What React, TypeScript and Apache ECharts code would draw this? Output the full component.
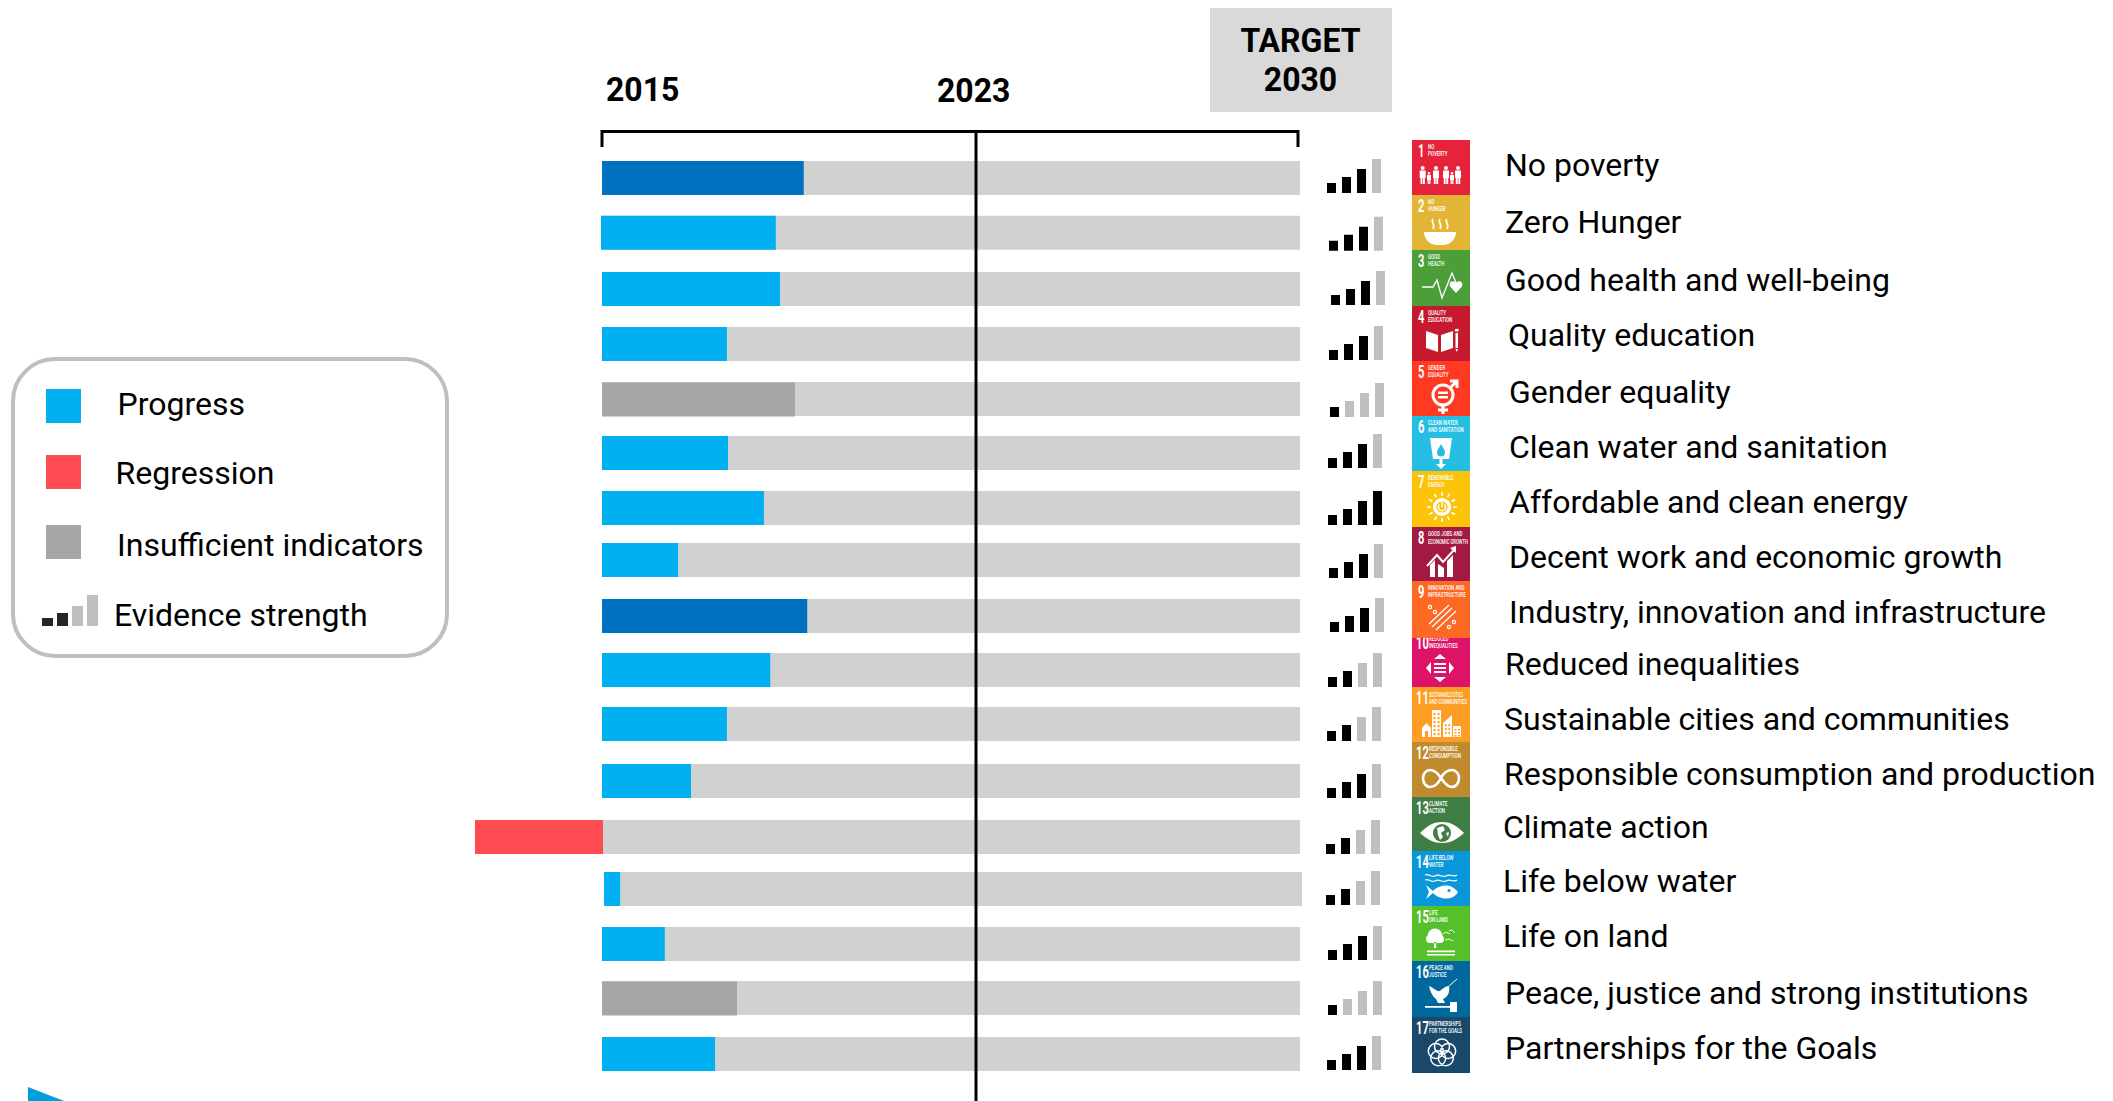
import React, { useEffect, useRef } from "react";
import * as echarts from "echarts";

// ---------- data ----------
const categories = [
  "No poverty", "Zero Hunger", "Good health and well-being", "Quality education", "Gender equality",
  "Clean water and sanitation", "Affordable and clean energy", "Decent work and economic growth",
  "Industry, innovation and infrastructure", "Reduced inequalities", "Sustainable cities and communities",
  "Responsible consumption and production", "Climate action", "Life below water", "Life on land",
  "Peace, justice and strong institutions", "Partnerships for the Goals",
];
const progressValues = [28.9, 24.9, 25.5, 17.9, 27.65, 18.05, 23.2, 10.9, 29.4, 24.1, 17.9, 12.75, -18.2, 2.6, 9.0, 19.35, 16.2];
const statuses = ["strong", "progress", "progress", "progress", "insufficient", "progress", "progress", "progress", "strong", "progress", "progress", "progress", "regression", "progress", "progress", "insufficient", "progress"];
const evidenceLevels = [3, 3, 3, 3, 1, 3, 4, 3, 3, 2, 2, 3, 2, 2, 3, 1, 3];
const legendItems = ["Progress", "Regression", "Insufficient indicators", "Evidence strength"];
const goalTitles = [
  ["NO", "POVERTY"], ["NO", "HUNGER"], ["GOOD", "HEALTH"], ["QUALITY", "EDUCATION"], ["GENDER", "EQUALITY"],
  ["CLEAN WATER", "AND SANITATION"], ["RENEWABLE", "ENERGY"], ["GOOD JOBS AND", "ECONOMIC GROWTH"],
  ["INNOVATION AND", "INFRASTRUCTURE"], ["REDUCED", "INEQUALITIES"], ["SUSTAINABLE CITIES", "AND COMMUNITIES"],
  ["RESPONSIBLE", "CONSUMPTION"], ["CLIMATE", "ACTION"], ["LIFE BELOW", "WATER"], ["LIFE", "ON LAND"],
  ["PEACE AND", "JUSTICE"], ["PARTNERSHIPS", "FOR THE GOALS"],
];

// ---------- colours ----------
const statusColors: Record<string, string> = {
  strong: "#0070C0", progress: "#00B0F0", regression: "#FF4B52", insufficient: "#A6A6A6",
};
const trackColor = "#D0D2D1";
const goalColors = ["#E5243B", "#E2B536", "#4C9F38", "#C5192D", "#FF3A21", "#26BDE2", "#FCC30B", "#A21942", "#FD6925", "#DD1367", "#FD9D24", "#BF8B2E", "#3F7E44", "#0A97D9", "#56C02B", "#00689D", "#19486A"];

// ---------- layout (pixels of the page) ----------
const rowNudge = [0, 0, 1.5, 1.75, 2, 1.25, 1.5, -1.25, 0, -0.75, -1.5, 0.75, 2, -0.75, -0.5, -1.25, 0];
const rowStartShift = [0, -1, 0, 0, 0, 0, 0, 0, 0, 0, 0, 0, 1, 2, 0, 0, 0];
const rowEndShift = [0, 0, 0, 0, 0, 0, 0, 0, 0, 0, 0, 0, 0, 2, 0, 0, 0];
const evidenceX = [1327, 1329, 1331, 1329, 1330, 1328, 1328, 1329, 1330, 1328, 1327, 1327, 1326, 1326, 1328, 1328, 1327];
const evidenceDrop = [15, 18, 16, 16, 18, 15, 17, 18, 16, 17, 17, 17, 17, 16, 16, 17, 16];
const labelX = [1505, 1505, 1505, 1508, 1509, 1509, 1509, 1509, 1509, 1505, 1504, 1504, 1503, 1503, 1503, 1505, 1505];
const labelY = [165.2, 222.2, 280.2, 335.2, 392.2, 446.7, 501.7, 557.2, 611.7, 663.7, 718.7, 773.7, 827.2, 880.7, 936.2, 992.7, 1048.2];
const iconTop = [140, 195, 250, 306, 361, 416, 471, 527, 581, 632, 687, 742, 797, 851, 906, 961, 1017];
const iconBottom = [195, 250, 306, 361, 416, 471, 527, 581, 638, 687, 742, 797, 851, 906, 961, 1017, 1073];
const FONT = "Roboto";

// ---------- SDG icon glyphs (local 58x55 box) ----------
const circ = (cx: number, cy: number, r: number) =>
  `M${cx - r} ${cy}a${r} ${r} 0 1 0 ${2 * r} 0a${r} ${r} 0 1 0 ${-2 * r} 0Z`;
const box = (x: number, y: number, w: number, h: number) => `M${x} ${y}h${w}v${h}h${-w}Z`;
const person = (cx: number, bottom: number, h: number) => {
  const u = h / 18;
  return circ(cx, bottom - h + 2 * u, 2 * u) + box(cx - 3 * u, bottom - h + 4.6 * u, 6 * u, 7.4 * u) + box(cx - 2.2 * u, bottom - h + 12 * u, 1.9 * u, 6 * u) + box(cx + 0.3 * u, bottom - h + 12 * u, 1.9 * u, 6 * u);
};
let sunRays = "";
const rayDirs = [[0, -1], [0.5, -0.87], [0.87, -0.5], [1, 0], [0.87, 0.5], [0.5, 0.87], [0, 1], [-0.5, 0.87], [-0.87, 0.5], [-1, 0], [-0.87, -0.5], [-0.5, -0.87]];
rayDirs.forEach(([a, b]) => { sunRays += `M${30 + a * 11} ${36 + b * 11}L${30 + a * 15} ${36 + b * 15}`; });
let cityWindows = "";
[0, 1, 2, 3, 4, 5].forEach((r) => { cityWindows += box(21.5, 26 + r * 4, 2, 2.2) + box(25.5, 26 + r * 4, 2, 2.2); });
[0, 1, 2].forEach((r) => { cityWindows += box(33, 37 + r * 4, 1.6, 2.2) + box(36.5, 37 + r * 4, 1.6, 2.2) + box(42.5, 42 + r * 3, 2, 1.6) + box(46, 42 + r * 3, 2, 1.6); });
cityWindows += box(13, 44, 3, 6);
const petals = [0, 72, 144, 216, 288].map((deg) => circ(30 + 6.5 * Math.sin((deg * Math.PI) / 180), 36 - 6.5 * Math.cos((deg * Math.PI) / 180), 7.5)).join("");

type Layer = { d: string; m: "f" | "s" | "bf" | "bs"; w?: number };
const glyphs: Layer[][] = [
  [{ d: person(10.7, 44, 18) + person(17, 44, 12) + person(24, 44, 18) + person(34, 44, 18) + person(40, 44, 12) + person(46, 44, 18), m: "f" }],
  [{ d: "M12 37H44C44 44 38 50 31 50H25C18 50 12 44 12 37Z", m: "f" },
   { d: "M21 24C18 27 24 29 21 34M28 24C25 27 31 29 28 34M35 24C32 27 38 29 35 34", m: "s", w: 1.6 }],
  [{ d: "M10 37H21L25 30L30 48L40 23L45 35", m: "s", w: 1.3 },
   { d: "M44 43L38.5 37C36 34 39 30 42 31.5C43 32 44 33 44 33C44 33 45 32 46 31.5C49 30 52 34 49.5 37Z", m: "f" }],
  [{ d: "M14 25L26 29V46L14 42ZM29 29L41 25V42L29 46Z", m: "f" },
   { d: box(43.5, 27, 2.5, 15) + "M43.5 43h2.5l-1.25 3ZM44.75 23a1.25 1.25 0 0 1 1.25 2.5h-2.5a1.25 1.25 0 0 1 1.25 -2.5Z", m: "f" }],
  [{ d: circ(31, 34, 10) + "M38 27L45 20M38 20H45V27M31 44V53M26 49H36", m: "s", w: 3 },
   { d: box(26, 30.5, 10, 2.4) + box(26, 35, 10, 2.4), m: "f" }],
  [{ d: "M18 22H40L37 43H21Z", m: "f" }, { d: "M29 28C31 32 33 34 33 36.5A4 4 0 0 1 25 36.5C25 34 27 32 29 28Z", m: "bf" },
   { d: box(27.5, 43, 3, 6) + "M24 48H34L29 53Z", m: "f" }],
  [{ d: sunRays, m: "s", w: 1.6 }, { d: circ(30, 36, 9), m: "f" }, { d: circ(30, 36, 5.6), m: "bf" },
   { d: "M27.5 33.5A3.6 3.6 0 1 0 32.5 33.5M30 31V36", m: "s", w: 1.4 }],
  [{ d: "M18 38L23 33L23 50H18ZM26 37L32 41V50H26ZM35 34L41 28V50H35Z", m: "f" },
   { d: "M15 39L25 28L31 35L42 23", m: "s", w: 2 }, { d: "M38 21L44 19L44 26Z", m: "f" }],
  [{ d: "M17 43L37 24M20 46L40 27M24 49L44 30", m: "s", w: 1.3 },
   { d: circ(18, 26, 1.6) + circ(23, 31, 1.6) + circ(37, 46, 1.6) + circ(42, 41, 1.6), m: "s", w: 1.2 }],
  [{ d: "M28 22L22 27H34ZM28 50L22 45H34ZM14 36L19 30V42ZM42 36L37 30V42Z", m: "f" },
   { d: box(22, 31, 12, 2) + box(22, 35, 12, 2) + box(22, 39, 12, 2), m: "f" }],
  [{ d: box(20, 23, 9, 27) + "M31 50V36L40 28V50ZM41 39H49V50H41ZM10 41L14.5 36L19 41V50H10Z", m: "f" }, { d: cityWindows, m: "bf" }],
  [{ d: "M29 36C25 30 21 28 18 28C14 28 11 32 11 36C11 41 14 45 18 45C22 45 26 42 29 36C32 30 36 28 40 28C44 28 47 32 47 36C47 41 44 45 40 45C36 45 33 42 29 36Z", m: "s", w: 2.6 }],
  [{ d: "M8 36C16 28 22 25 30 25C38 25 44 28 52 36C44 43 38 46 30 46C22 46 16 43 8 36Z", m: "f" }, { d: circ(30, 36, 9), m: "bf" },
   { d: "M25 31L31 29L33 33L29 36L31 40L28 43L26 38Z M34 36L37 35L36 40Z", m: "f" }],
  [{ d: "M13 24C17 22 19 27 23 25C27 22 30 27 34 25C38 22 41 27 45 24M13 29C17 27 19 32 23 30C27 27 30 32 34 30C38 27 41 32 45 29", m: "s", w: 1.2 },
   { d: "M20 41C25 35 34 33 40 36C43 37.5 45 40 46 41C45 43 43 45 40 46.5C34 49 25 47 20 41ZM14 34L22 41L14 48L17 41Z", m: "f" }, { d: circ(37, 39.5, 1.6), m: "bf" }],
  [{ d: circ(23, 30, 7.5) + circ(18, 33, 4) + circ(28, 33, 4) + box(22, 36, 2.2, 6) + box(15, 44.5, 28, 1.8) + box(15, 48, 28, 1.6), m: "f" },
   { d: "M31 28L34 26L38 28M37 25L40 24L43 27M33 34L37 33L41 35", m: "s", w: 0.9 }],
  [{ d: "M17 25C22 27 25 31 28 30C31 27 34 25 37 25C38 31 36 36 31 38L33 42H26L24 38C20 35 18 30 17 25Z", m: "f" },
   { d: "M37 25L45 18", m: "s", w: 1 },
   { d: box(13, 45, 25, 1.8) + box(38, 41, 7, 10), m: "f" }],
  [{ d: petals, m: "s", w: 1.5 }],
];
glyphs.forEach((layers, i) => layers.forEach((layer, j) => {
  echarts.graphic.registerShape(`sdg${i}_${j}`, echarts.graphic.extendPath(layer.d, {}));
}));

const legendBarsH = [8, 13, 20, 31];

function iconGraphic(i: number) {
  const top = iconTop[i];
  const h = iconBottom[i] - top;
  const color = goalColors[i];
  const two = i >= 9;
  const fit = (s: string) => Math.min(0.56, 39 / (s.length * 0.62 * 8));
  const small = { fontFamily: FONT, fontWeight: 500, fontSize: 8, fill: "#fff", verticalAlign: "middle", textVerticalAlign: "middle" };
  const children: any[] = [
    { type: "rect", shape: { x: 0, y: 0, width: 58, height: h }, style: { fill: color } },
    { type: "text", x: two ? 4 : 6, y: 11, scaleX: 0.62, style: { text: String(i + 1), fontFamily: FONT, fontWeight: 700, fontSize: 18, fill: "#fff", verticalAlign: "middle", textVerticalAlign: "middle" } },
    { type: "text", x: two ? 17 : 16, y: 7, scaleX: fit(goalTitles[i][0]), style: { text: goalTitles[i][0], ...small } },
    { type: "text", x: two ? 17 : 16, y: 14, scaleX: fit(goalTitles[i][1]), style: { text: goalTitles[i][1], ...small } },
  ];
  glyphs[i].forEach((layer, j) => {
    const isStroke = layer.m === "s" || layer.m === "bs";
    const c = layer.m[0] === "b" ? color : "#fff";
    children.push({
      type: `sdg${i}_${j}`,
      style: isStroke ? { fill: "none", stroke: c, lineWidth: layer.w || 1 } : { fill: c },
    });
  });
  return { type: "group", x: 1412, y: top, children };
}

function buildGraphics() {
  const t = (text: string, x: number, y: number, size: number, extra: any = {}, scaleX = 1) => ({
    type: "text", x, y, z: 20, scaleX,
    style: { text, fontFamily: FONT, fontSize: size, fill: "#000", verticalAlign: "middle", textVerticalAlign: "middle", ...extra },
  });
  const els: any[] = [];
  // header
  els.push({ type: "rect", shape: { x: 1210, y: 8, width: 182, height: 104 }, style: { fill: "#D9D9D9" } });
  els.push(t("TARGET", 1300.5, 41, 33, { fontWeight: 700, align: "center", textAlign: "center" }, 0.97));
  els.push(t("2030", 1300.5, 80, 33, { fontWeight: 700, align: "center", textAlign: "center" }, 0.97));
  els.push(t("2015", 606, 89.5, 33, { fontWeight: 700 }, 0.97));
  els.push(t("2023", 937, 90.5, 33, { fontWeight: 700 }, 0.97));
  // bracket and 2023 line
  const line = { stroke: "#000", lineWidth: 3 };
  els.push({ type: "polyline", z: 30, shape: { points: [[602, 147], [602, 131.5], [1298, 131.5], [1298, 147]] }, style: { ...line, fill: "none" } });
  els.push({ type: "line", z: 30, shape: { x1: 976, y1: 131, x2: 976, y2: 1101 }, style: line });
  // legend
  els.push({ type: "rect", shape: { x: 13, y: 359, width: 434, height: 297, r: 42 }, style: { fill: "#fff", stroke: "#BFBFBF", lineWidth: 4 } });
  const swatchY = [389, 455, 525];
  [statusColors.progress, statusColors.regression, statusColors.insufficient].forEach((c, i) => {
    els.push({ type: "rect", shape: { x: 46, y: swatchY[i], width: 35, height: 34 }, style: { fill: c } });
  });
  const legendX = [117.5, 115.5, 117, 114];
  const legendY = [403.7, 473.2, 544.7, 614.7];
  legendItems.forEach((s, i) => els.push(t(s, legendX[i], legendY[i], 32)));
  legendBarsH.forEach((h, i) => {
    els.push({ type: "rect", shape: { x: 42 + 15 * i, y: 626 - h, width: 11, height: h }, style: { fill: i < 2 ? "#262626" : "#BFBFBF" } });
  });
  // row labels
  categories.forEach((s, i) => els.push(t(s, labelX[i], labelY[i], 32)));
  // icons (goal 10 sits under goal 9)
  const order = [0, 1, 2, 3, 4, 5, 6, 7, 9, 8, 10, 11, 12, 13, 14, 15, 16];
  order.forEach((i) => els.push(iconGraphic(i)));
  // corner triangle
  els.push({ type: "polygon", shape: { points: [[28, 1087], [64, 1101], [28, 1101]] }, style: { fill: "#009EDB" } });
  return els;
}

export default function App() {
  const ref = useRef<HTMLDivElement>(null);
  useEffect(() => {
    document.body.style.margin = "0";
    document.body.style.overflow = "hidden";
    const chart = echarts.init(ref.current!, undefined, { renderer: "svg" });
    const BAR_H = 34;

    const rowY = (api: any, i: number) => api.coord([0, i])[1] + rowNudge[i];

    chart.setOption({
      animation: false,
      backgroundColor: "#fff",
      grid: { left: 462.4, width: 837.6, top: 150.625, height: 930.75 },
      xAxis: { type: "value", min: -20, max: 100, show: false },
      yAxis: { type: "category", inverse: true, data: categories, show: false },
      series: [
        {
          name: "Track",
          type: "custom",
          data: categories.map((_, i) => [100, i]),
          encode: { x: 0, y: 1 },
          renderItem: (_p: any, api: any) => {
            const i = api.value(1);
            const y = rowY(api, i);
            const x0 = api.coord([0, i])[0] + rowStartShift[i];
            const x1 = api.coord([api.value(0), i])[0] + rowEndShift[i];
            return { type: "rect", shape: { x: x0, y: y - BAR_H / 2, width: x1 - x0, height: BAR_H }, style: { fill: trackColor } };
          },
        },
        {
          name: "Progress",
          type: "custom",
          data: progressValues.map((v, i) => [v, i]),
          encode: { x: 0, y: 1 },
          renderItem: (_p: any, api: any) => {
            const i = api.value(1);
            const y = rowY(api, i) + (statuses[i] === "insufficient" ? 0.5 : 0);
            const x0 = api.coord([0, i])[0] + rowStartShift[i];
            const x1 = api.coord([api.value(0), i])[0];
            return {
              type: "rect",
              shape: { x: Math.min(x0, x1), y: y - BAR_H / 2, width: Math.abs(x1 - x0), height: BAR_H },
              style: { fill: statusColors[statuses[i]] },
            };
          },
        },
        {
          name: "Evidence strength",
          type: "custom",
          data: evidenceLevels.map((v, i) => [v, i]),
          encode: { y: 1 },
          renderItem: (_p: any, api: any) => {
            const level = api.value(0);
            const i = api.value(1);
            const bottom = rowY(api, i) + evidenceDrop[i];
            const heights = [10, 16, 24, 34];
            return {
              type: "group",
              children: heights.map((h, k) => ({
                type: "rect",
                shape: { x: evidenceX[i] + k * 15, y: bottom - h, width: 9, height: h },
                style: { fill: k < level ? "#000" : "#BFBFBF" },
              })),
            };
          },
        },
      ],
      graphic: { elements: buildGraphics() },
    });
    return () => chart.dispose();
  }, []);
  return <div ref={ref} style={{ position: "fixed", left: 0, top: 0, width: 2113, height: 1101 }} />;
}
